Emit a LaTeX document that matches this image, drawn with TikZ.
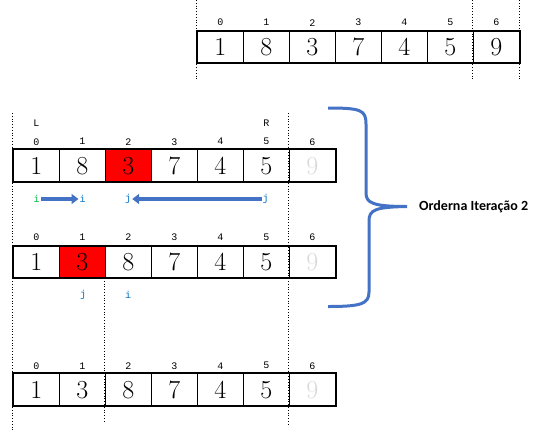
\documentclass[tikz,border=0pt]{standalone}
\usepackage{fontspec}
\setmonofont{Liberation Mono}
\newfontfamily\labelfont{Carlito}
\usetikzlibrary{arrows.meta}
\usetikzlibrary{positioning}
\definecolor{bblue}{RGB}{68, 114, 196}
\definecolor{pblue}{RGB}{0, 112, 192}
\definecolor{pgreen}{RGB}{0, 176, 80}
\definecolor{fade}{RGB}{217, 217, 217}
\tikzset{cell/.style = {draw, line width = 1pt, minimum width = 46pt, minimum height = 31.5pt,
                        inner sep = 0, font = \fontsize{26}{26}\selectfont}}
\tikzset{idx/.style = {inner sep = 1pt, font = \ttfamily\fontsize{10}{10}\selectfont}}
\tikzset{ptr/.style = {inner sep = 1pt, text = pblue, font = \ttfamily\fontsize{10}{10}\selectfont}}
\tikzset{frame/.style = {line width = 2pt}}
\tikzset{guide/.style = {dotted, line width = 0.8pt}}
\tikzset{move/.style = {draw = bblue, line width = 3.5pt, -{Triangle[length = 7pt, width = 10pt]}}}

\begin{document}
\begin{tikzpicture}[x = 1pt, y = -1pt]
    \useasboundingbox (0, 0) rectangle (560, 437);

    % original array
    \foreach \v [count = \k from 0] in {1, 8, 3, 7, 4, 5, 9} {
      \node [cell] (a\k) at (220.3 + 46*\k, 46.9) {\v};
      \node [idx] (ai\k) at (220.3 + 46*\k, 22.7) {\k};
    }
    \draw [frame] (a0.north west) rectangle (a6.south east);
    \draw [guide] (a0.west |- 0, 0) -- (a0.west |- 0, 80);
    \draw [guide] (a6.west |- 0, 0) -- (a6.west |- 0, 80);
    \draw [guide] (a6.east |- 0, 0) -- (a6.east |- 0, 80);

    % iteration 2, pivot 3
    \foreach \v [count = \k from 0] in {1, 8, 3, 7, 4, 5} {
      \node [cell] (b\k) at (36.3 + 46*\k, 165.7) {\v};
      \node [idx] (bi\k) at (36.3 + 46*\k, 141.7) {\k};
    }
    \node [cell, text = fade] (b6) at (312.3, 165.7) {9};
    \node [idx] (bi6) at (312.3, 141.7) {6};
    \node [cell, fill = red] at (b2) {3};
    \draw [frame] (b0.north west) rectangle (b6.south east);
    \node [idx] (left) at (36.3, 123.3) {L};
    \node [idx] (right) at (266.3, 123.3) {R};

    \node [ptr, text = pgreen] (i0) at (36.7, 199) {i};
    \node [ptr] (i1) at (82.7, 199) {i};
    \node [ptr] (j0) at (128, 199) {j};
    \node [ptr] (j1) at (265.7, 199) {j};
    \draw [move] (i0) -- (i1);
    \draw [move] (j1) -- (j0);

    % after the swap
    \foreach \v [count = \k from 0] in {1, 3, 8, 7, 4, 5} {
      \node [cell] (c\k) at (36.3 + 46*\k, 261.9) {\v};
      \node [idx] (ci\k) at (36.3 + 46*\k, 237) {\k};
    }
    \node [cell, text = fade] (c6) at (312.3, 261.9) {9};
    \node [idx] (ci6) at (312.3, 237) {6};
    \node [cell, fill = red] at (c1) {3};
    \draw [frame] (c0.north west) rectangle (c6.south east);
    \node [ptr] (j2) at (83, 295) {j};
    \node [ptr] (i2) at (128, 295) {i};

    % result
    \foreach \v [count = \k from 0] in {1, 3, 8, 7, 4, 5} {
      \node [cell] (d\k) at (36.3 + 46*\k, 389.7) {\v};
      \node [idx] (di\k) at (36.3 + 46*\k, 365.7) {\k};
    }
    \node [cell, text = fade] (d6) at (312.3, 389.7) {9};
    \node [idx] (di6) at (312.3, 365.7) {6};
    \draw [frame] (d0.north west) rectangle (d6.south east);

    \draw [guide] (b0.west |- 0, 113) -- (b0.west |- 0, 432);
    \draw [guide] (b6.west |- 0, 113) -- (b6.west |- 0, 425);
    \draw [guide] (c2.west |- 0, 278) -- (c2.west |- 0, 423);

    % brace
    \draw [bblue, line width = 3pt]
      (328, 108) .. controls (361, 108) and (366, 110) .. (366, 124) -- (366, 193)
      .. controls (366, 203) and (373, 206.5) .. (407, 206.5) coordinate (tip)
      .. controls (375, 207) and (369, 210) .. (369, 221) -- (369, 292)
      .. controls (369, 304) and (361, 306.5) .. (328, 306.5);
    \node [right = 12pt of tip, inner sep = 0, font = \labelfont\bfseries\fontsize{14}{14}\selectfont] (title) {Orderna Iteração 2};
  \end{tikzpicture}
\end{document}
